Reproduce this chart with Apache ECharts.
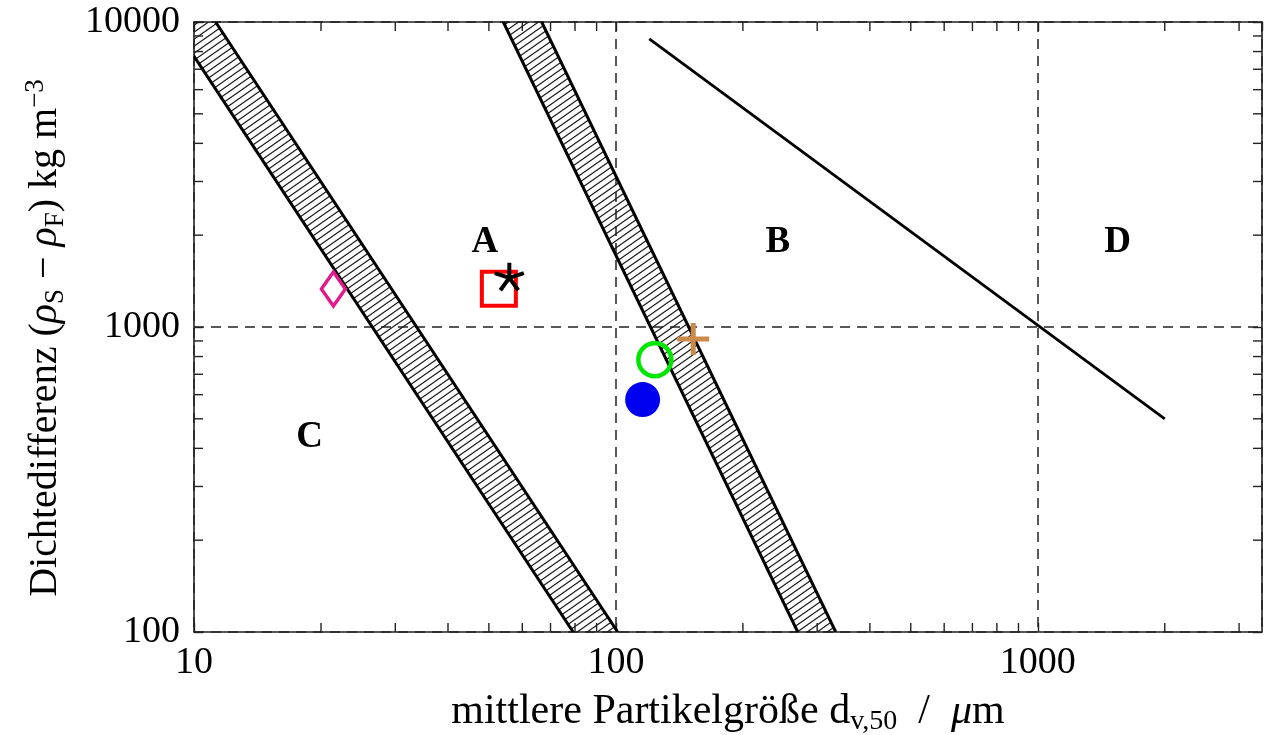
<!DOCTYPE html>
<html>
<head>
<meta charset="utf-8">
<script src="https://cdn.jsdelivr.net/npm/echarts@6/dist/echarts.min.js"></script>
<style>
  html, body { margin: 0; padding: 0; background: #ffffff; }
  #chart { width: 1278px; height: 735px; }
</style>
</head>
<body>
<div id="chart"></div>
<script>
// Particle classification chart: density difference vs. median particle size

const xRange = [10, 3400];
const yRange = [100, 10000];
const xMinorTicks = [20, 30, 40, 50, 60, 70, 80, 90, 200, 300, 400, 500, 600, 700, 800, 900, 2000, 3000];
const yMinorTicks = [200, 300, 400, 500, 600, 700, 800, 900, 2000, 3000, 4000, 5000, 6000, 7000, 8000, 9000];

// Transition bands, each edge given by two end points [d_v50, Δρ]
const bandCAlower = [[8.84, 10000], [79.2, 100]];
const bandCAupper = [[11.25, 10000], [101, 100]];
const bandABlower = [[54.1, 10000], [269.8, 100]];
const bandABupper = [[66.7, 10000], [332, 100]];
// B/D boundary
const lineBD = [[120, 8800], [2000, 500]];

// Region letters
const regionNames = ['A', 'B', 'C', 'D'];
const regionX = [48.9, 242, 18.8, 1547];
const regionY = [1890, 1890, 434, 1890];

// Measured materials
const diamondPoint = [21.4, 1332];
const squarePoint = [52.8, 1335];
const starPoint = [55.9, 1465];
const ringPoint = [123.7, 781];
const dotPoint = [115.7, 578];
const plusPoint = [152.5, 913];

const FONT = "'Liberation Serif', 'DejaVu Serif', serif";
const INK = '#000000';
const FRAME = '#222222';

// diagonal hatch tile for the transition bands
function hatchPattern() {
  const w = 10, h = 7;
  const c = document.createElement('canvas');
  c.width = w; c.height = h;
  const ctx = c.getContext('2d');
  ctx.strokeStyle = '#1a1a1a';
  ctx.lineWidth = 1.2;
  [-w, 0, w].forEach(function (off) {
    ctx.beginPath();
    ctx.moveTo(-2 + off, h + 2 * h / w);
    ctx.lineTo(w + 2 + off, -2 * h / w);
    ctx.stroke();
  });
  return { image: c, repeat: 'repeat' };
}
const hatch = hatchPattern();

const bands = [
  [bandCAlower, bandCAupper],
  [bandABlower, bandABupper]
];
const bandData = bands.map(function (b) {
  return [b[0][0][0], b[0][0][1], b[0][1][0], b[0][1][1],
          b[1][1][0], b[1][1][1], b[1][0][0], b[1][0][1]];
});

function renderBand(params, api) {
  const pts = [];
  for (let i = 0; i < 4; i++) {
    pts.push(api.coord([api.value(2 * i), api.value(2 * i + 1)]));
  }
  const cs = params.coordSys;
  return {
    type: 'group',
    clipPath: { type: 'rect', shape: { x: cs.x, y: cs.y, width: cs.width, height: cs.height } },
    children: [
      { type: 'polygon', shape: { points: pts }, style: { fill: hatch, stroke: null } },
      { type: 'polyline', shape: { points: [pts[0], pts[1]] }, style: { stroke: '#000', lineWidth: 3, fill: null } },
      { type: 'polyline', shape: { points: [pts[2], pts[3]] }, style: { stroke: '#000', lineWidth: 3, fill: null } }
    ]
  };
}

function renderMinorTicks(params, api) {
  const cs = params.coordSys;
  const len = 9;
  const children = [];
  const st = { stroke: FRAME, lineWidth: 1.4 };
  xMinorTicks.forEach(function (v) {
    const x = api.coord([v, yRange[0]])[0];
    children.push({ type: 'line', shape: { x1: x, y1: cs.y + cs.height, x2: x, y2: cs.y + cs.height - len }, style: st });
    children.push({ type: 'line', shape: { x1: x, y1: cs.y, x2: x, y2: cs.y + len }, style: st });
  });
  yMinorTicks.forEach(function (v) {
    const y = api.coord([xRange[0], v])[1];
    children.push({ type: 'line', shape: { x1: cs.x, y1: y, x2: cs.x + len, y2: y }, style: st });
    children.push({ type: 'line', shape: { x1: cs.x + cs.width, y1: y, x2: cs.x + cs.width - len, y2: y }, style: st });
  });
  return { type: 'group', children: children };
}

function markerSeries(point, symbol, size, style) {
  return {
    type: 'scatter',
    data: [point],
    symbol: symbol,
    symbolSize: size,
    symbolKeepAspect: true,
    itemStyle: Object.assign({ opacity: 1 }, style),
    emphasis: { disabled: true },
    z: 10,
    silent: true
  };
}

const starPath = 'path://M0 0L0 -1M0 0L0.951 -0.309M0 0L0.588 0.809M0 0L-0.588 0.809M0 0L-0.951 -0.309';
const plusPath = 'path://M-1 0L1 0M0 -1L0 1';

const axisCommon = {
  type: 'log',
  logBase: 10,
  axisLine: { show: true, onZero: false, lineStyle: { color: FRAME, width: 1.6 } },
  axisTick: { show: true, inside: true, length: 9, lineStyle: { color: FRAME, width: 1.4 } },
  minorTick: { show: false },
  nameMoveOverlap: false
};

const tickFormatter = function (v) { return String(Math.round(v)); };

const titleRich = function (size, sub, lh) {
  return {
    t: { fontFamily: FONT, fontSize: size, color: INK, lineHeight: lh },
    i: { fontFamily: FONT, fontSize: size, color: INK, fontStyle: 'italic', lineHeight: lh },
    s: { fontFamily: FONT, fontSize: sub, color: INK, lineHeight: sub, verticalAlign: 'bottom' },
    p: { fontFamily: FONT, fontSize: sub, color: INK, lineHeight: sub, verticalAlign: 'top' }
  };
};

const option = {
  animation: false,
  backgroundColor: '#ffffff',
  grid: { left: 194, right: 16, top: 22, bottom: 103, containLabel: false, outerBoundsMode: 'none' },
  xAxis: [
    Object.assign({}, axisCommon, {
      position: 'bottom',
      min: xRange[0], max: xRange[1],
      name: '{t|mittlere Partikelgröße d}{s|v,50}{t|  /  }{i|μ}{t|m}',
      nameLocation: 'middle',
      nameGap: 56,
      nameTextStyle: { color: INK, fontFamily: FONT, fontSize: 42, rich: titleRich(42, 28, 48) },
      axisLabel: { show: true, margin: 12, color: INK, fontFamily: FONT, fontSize: 38, formatter: tickFormatter, showMaxLabel: false },
      splitLine: { show: true, lineStyle: { color: '#222', width: 1.5, type: [10, 7] } }
    }),
    Object.assign({}, axisCommon, {
      position: 'top',
      min: xRange[0], max: xRange[1],
      axisLabel: { show: false },
      splitLine: { show: false }
    })
  ],
  yAxis: [
    Object.assign({}, axisCommon, {
      position: 'left',
      min: yRange[0], max: yRange[1],
      name: '{t|Dichtedifferenz (}{i|ρ}{s|S}{t| − }{i|ρ}{s|F}{t|) kg m}{p|−3}',
      nameLocation: 'middle',
      nameGap: 125,
      nameTextStyle: { color: INK, fontFamily: FONT, fontSize: 40, padding: [0, 22, 0, 0], rich: titleRich(40, 27, 47) },
      axisLabel: { show: true, margin: 14, color: INK, fontFamily: FONT, fontSize: 38, formatter: tickFormatter },
      splitLine: { show: true, lineStyle: { color: '#222', width: 1.5, type: [10, 7] } }
    }),
    Object.assign({}, axisCommon, {
      position: 'right',
      min: yRange[0], max: yRange[1],
      axisLabel: { show: false },
      splitLine: { show: false }
    })
  ],
  series: [
    {
      type: 'custom',
      renderItem: renderBand,
      data: bandData,
      encode: { x: [0, 2, 4, 6], y: [1, 3, 5, 7] },
      clip: true,
      silent: true,
      z: 2
    },
    {
      type: 'line',
      data: lineBD,
      symbol: 'none',
      lineStyle: { color: '#000', width: 2.8, opacity: 1 },
      z: 3,
      silent: true
    },
    {
      type: 'custom',
      renderItem: renderMinorTicks,
      data: [[xRange[0], yRange[0]]],
      silent: true,
      z: 5
    },
    {
      type: 'scatter',
      data: regionNames.map(function (n, i) { return { name: n, value: [regionX[i], regionY[i]] }; }),
      symbol: 'rect',
      symbolSize: 1,
      itemStyle: { color: 'rgba(0,0,0,0)', opacity: 1 },
      label: {
        show: true, position: 'inside', formatter: '{b}', opacity: 1,
        fontFamily: FONT, fontWeight: 'bold', fontSize: 37, color: INK
      },
      emphasis: { disabled: true },
      z: 8,
      silent: true
    },
    markerSeries(diamondPoint, 'diamond', [24, 34], { color: 'rgba(0,0,0,0)', borderColor: '#e01a8c', borderWidth: 3.5 }),
    markerSeries(squarePoint, 'rect', 34, { color: 'rgba(0,0,0,0)', borderColor: '#ff0000', borderWidth: 4 }),
    markerSeries(starPoint, starPath, 29, { color: 'rgba(0,0,0,0)', borderColor: '#000000', borderWidth: 4 }),
    markerSeries(ringPoint, 'circle', 33, { color: 'rgba(0,0,0,0)', borderColor: '#00e600', borderWidth: 4.5 }),
    markerSeries(dotPoint, 'circle', 35, { color: '#0000f0', borderWidth: 0 }),
    markerSeries(plusPoint, plusPath, 32, { color: 'rgba(0,0,0,0)', borderColor: '#c98a4b', borderWidth: 5 })
  ]
};

const chart = echarts.init(document.getElementById('chart'), null, { renderer: 'canvas' });
chart.setOption(option);
</script>
</body>
</html>
